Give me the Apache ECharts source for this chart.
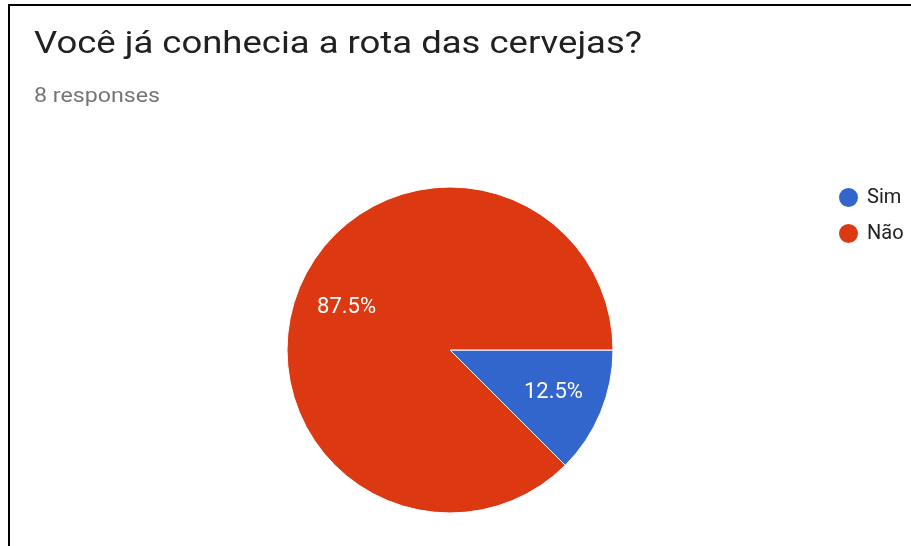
<!DOCTYPE html>
<html>
<head>
<meta charset="utf-8">
<script src="https://cdn.jsdelivr.net/npm/echarts@6/dist/echarts.min.js"></script>
<style>
  html, body { margin: 0; padding: 0; background: #ffffff; }
  #chart { width: 911px; height: 546px; }
</style>
</head>
<body>
<div id="chart"></div>
<script>
// Survey answers
const categories = ['Sim', 'Não'];
const responses = [1, 7];
const sliceColors = ['#3366cc', '#dc3912'];
const questionTitle = 'Você já conhecia a rota das cervejas?';
const responseCount = '8 responses';

const pieData = categories.map((name, i) => ({
  name: name,
  value: responses[i],
  itemStyle: { color: sliceColors[i] }
}));

const chart = echarts.init(document.getElementById('chart'), null, { renderer: 'canvas' });

const FONT = 'Roboto, "Noto Sans", sans-serif';

chart.setOption({
  backgroundColor: '#ffffff',
  animation: false,
  legend: {
    orient: 'vertical',
    left: 832,
    top: 181,
    icon: 'circle',
    itemWidth: 21,
    itemHeight: 21,
    itemGap: 13,
    textStyle: { fontFamily: FONT, fontSize: 20, color: '#212121', padding: [0, 0, 0, 3] },
    data: categories
  },
  graphic: [
    // frame
    { type: 'line', shape: { x1: 8, y1: 5, x2: 911, y2: 5 }, style: { stroke: '#000', lineWidth: 2 } },
    { type: 'line', shape: { x1: 9, y1: 4, x2: 9, y2: 546 }, style: { stroke: '#000', lineWidth: 2 } },
    // question heading
    {
      type: 'text', x: 34, y: 29, scaleX: 1.14,
      style: {
        text: questionTitle, x: 0, y: 0, verticalAlign: 'top',
        font: '32px ' + FONT, fill: '#212121'
      }
    },
    {
      type: 'text', x: 34, y: 87, scaleX: 1.16,
      style: {
        text: responseCount, x: 0, y: 0, verticalAlign: 'top',
        font: '20px ' + FONT, fill: '#757575'
      }
    }
  ],
  series: [
    {
      type: 'pie',
      center: [450, 350],
      radius: [0, 163],
      startAngle: 0,
      clockwise: true,
      data: pieData,
      label: { show: false },
      labelLine: { show: false },
      itemStyle: { borderColor: '#ffffff', borderWidth: 1 },
      emphasis: { disabled: true }
    },
    {
      // transparent ring carrying the percentage labels
      type: 'pie',
      center: [450, 350],
      radius: [55, 163],
      startAngle: 0,
      clockwise: true,
      silent: true,
      legendHoverLink: false,
      data: categories.map((name, i) => ({ name: name, value: responses[i] })),
      itemStyle: { color: 'rgba(0,0,0,0)', borderWidth: 0 },
      label: {
        show: true,
        position: 'inside',
        formatter: p => p.percent.toFixed(1) + '%',
        fontFamily: FONT,
        fontSize: 22,
        color: '#ffffff'
      },
      labelLine: { show: false },
      emphasis: { disabled: true }
    }
  ]
});
</script>
</body>
</html>
